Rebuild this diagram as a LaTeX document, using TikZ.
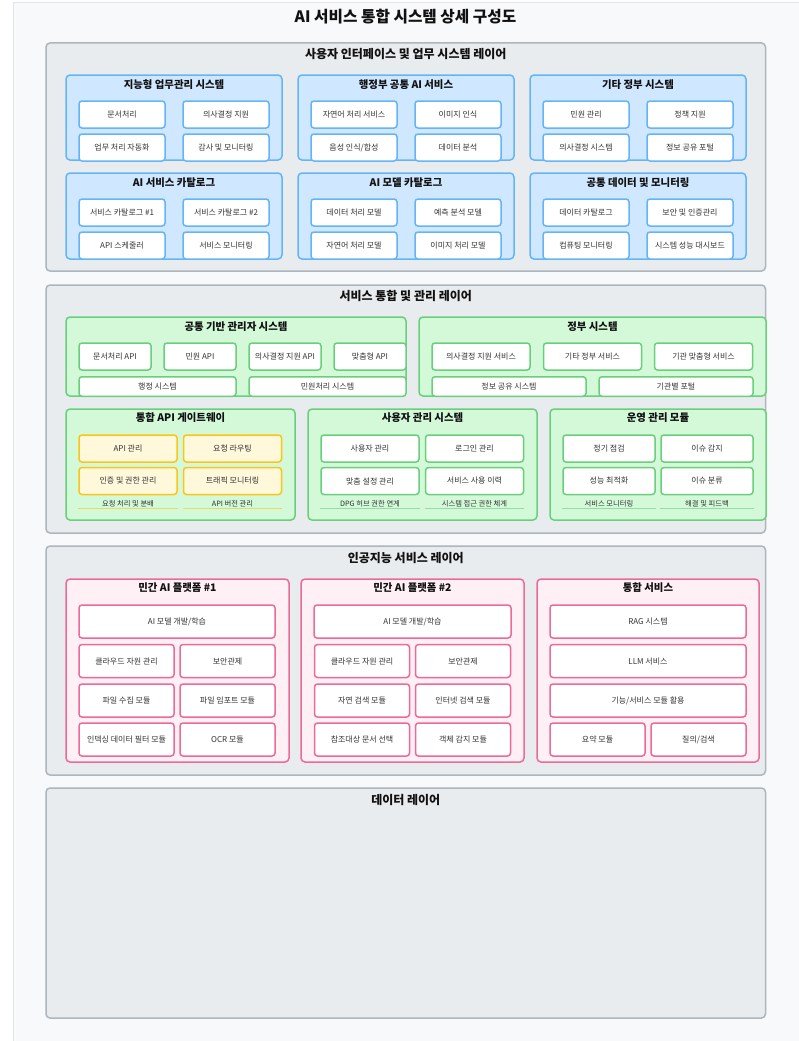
\documentclass[tikz,border=0pt]{standalone}
\usepackage{fontspec}
\setmainfont{Noto Sans CJK KR}
\definecolor{pagebg}{HTML}{F8F9FA}
\definecolor{pageline}{HTML}{E3E6E9}
\definecolor{layerbg}{HTML}{E9ECEF}
\definecolor{layerline}{HTML}{ADB5BD}
\definecolor{bluebg}{HTML}{CFE8FF}
\definecolor{blueline}{HTML}{64B5F6}
\definecolor{greenbg}{HTML}{D3F9D8}
\definecolor{greenline}{HTML}{69CF7B}
\definecolor{yellowbg}{HTML}{FFF8DB}
\definecolor{yellowline}{HTML}{FCC419}
\definecolor{pinkbg}{HTML}{FFF0F5}
\definecolor{pinkline}{HTML}{EC6A98}
\definecolor{itemtext}{HTML}{333333}
\definecolor{titletext}{HTML}{111111}
\begin{document}
\begin{tikzpicture}[x=1pt, y=-1pt, line width=1.5pt,
	sz/.style 2 args={minimum width=#1pt, minimum height=#2pt},
	layer/.style={draw=layerline, fill=layerbg, rounded corners=4pt, inner sep=0pt},
	bluepanel/.style={draw=blueline, fill=bluebg, rounded corners=4pt, inner sep=0pt},
	greenpanel/.style={draw=greenline, fill=greenbg, rounded corners=4pt, inner sep=0pt},
	pinkpanel/.style={draw=pinkline, fill=pinkbg, rounded corners=4pt, inner sep=0pt},
	item/.style={fill=white, rounded corners=3pt, inner sep=0pt, text=itemtext, font=\fontsize{8}{9}\selectfont},
	bitem/.style={item, draw=blueline},
	gitem/.style={item, draw=greenline},
	yitem/.style={item, draw=yellowline, fill=yellowbg},
	pitem/.style={item, draw=pinkline},
	note/.style={inner sep=0pt, minimum height=8pt, text=itemtext, font=\fontsize{7.3}{8}\selectfont},
	underline/.style={line width=0.8pt, opacity=0.6},
	layertitle/.style={inner sep=0pt, text=titletext, font=\bfseries\fontsize{12}{14}\selectfont},
	paneltitle/.style={inner sep=0pt, text=titletext, font=\bfseries\fontsize{10.4}{12}\selectfont}]
	\useasboundingbox (0,0) rectangle (799,1041);
	\fill[pagebg] (13,3) rectangle (799,1041);
	\draw[pageline, line width=1pt] (13,1041) -- (13,3) -- (799,3);
	\node[inner sep=0pt, text=titletext, font=\bfseries\fontsize{15.7}{18}\selectfont] (title) at (405.5,17) {AI 서비스 통합 시스템 상세 구성도};

	% user interface layer
	\node[layer, sz={719.5}{228}] (ui) at (405.75,157) {};
	\node[layertitle] (uit) at (405.75,54) {사용자 인터페이스 및 업무 시스템 레이어};
	\node[bluepanel, sz={216}{85}] (work) at (174,117.5) {};
	\node[paneltitle] (workt) at (174,85) {지능형 업무관리 시스템};
	\node[bitem, sz={86}{27}] (work1) at (122,114.5) {문서처리};
	\node[bitem, sz={86}{27}] (work2) at (226,114.5) {의사결정 지원};
	\node[bitem, sz={86}{27}] (work3) at (122,147.5) {업무 처리 자동화};
	\node[bitem, sz={86}{27}] (work4) at (226,147.5) {감사 및 모니터링};
	\node[bluepanel, sz={216}{85}] (gov) at (406,117.5) {};
	\node[paneltitle] (govt) at (406,85) {행정부 공통 AI 서비스};
	\node[bitem, sz={86}{27}] (gov1) at (354,114.5) {자연어 처리 서비스};
	\node[bitem, sz={86}{27}] (gov2) at (458,114.5) {이미지 인식};
	\node[bitem, sz={86}{27}] (gov3) at (354,147.5) {음성 인식/합성};
	\node[bitem, sz={86}{27}] (gov4) at (458,147.5) {데이터 분석};
	\node[bluepanel, sz={216}{85}] (etc) at (638,117.5) {};
	\node[paneltitle] (etct) at (638,85) {기타 정부 시스템};
	\node[bitem, sz={86}{27}] (etc1) at (586,114.5) {민원 관리};
	\node[bitem, sz={86}{27}] (etc2) at (690,114.5) {정책 지원};
	\node[bitem, sz={86}{27}] (etc3) at (586,147.5) {의사결정 시스템};
	\node[bitem, sz={86}{27}] (etc4) at (690,147.5) {정보 공유 포털};
	\node[bluepanel, sz={216}{86}] (svc) at (174,216) {};
	\node[paneltitle] (svct) at (174,183) {AI 서비스 카탈로그};
	\node[bitem, sz={86}{27}] (svc1) at (122,212.5) {서비스 카탈로그 \#1};
	\node[bitem, sz={86}{27}] (svc2) at (226,212.5) {서비스 카탈로그 \#2};
	\node[bitem, sz={86}{27}] (svc3) at (122,245.5) {API 스케줄러};
	\node[bitem, sz={86}{27}] (svc4) at (226,245.5) {서비스 모니터링};
	\node[bluepanel, sz={216}{86}] (mdl) at (406,216) {};
	\node[paneltitle] (mdlt) at (406,183) {AI 모델 카탈로그};
	\node[bitem, sz={86}{27}] (mdl1) at (354,212.5) {데이터 처리 모델};
	\node[bitem, sz={86}{27}] (mdl2) at (458,212.5) {예측 분석 모델};
	\node[bitem, sz={86}{27}] (mdl3) at (354,245.5) {자연어 처리 모델};
	\node[bitem, sz={86}{27}] (mdl4) at (458,245.5) {이미지 처리 모델};
	\node[bluepanel, sz={216}{86}] (mon) at (638,216) {};
	\node[paneltitle] (mont) at (638,183) {공통 데이터 및 모니터링};
	\node[bitem, sz={86}{27}] (mon1) at (586,212.5) {데이터 카탈로그};
	\node[bitem, sz={86}{27}] (mon2) at (690,212.5) {보안 및 인증관리};
	\node[bitem, sz={86}{27}] (mon3) at (586,245.5) {컴퓨팅 모니터링};
	\node[bitem, sz={86}{27}] (mon4) at (690,245.5) {시스템 성능 대시보드};

	% integration layer
	\node[layer, sz={719.5}{248}] (intg) at (405.75,409) {};
	\node[layertitle] (intgt) at (405.75,296) {서비스 통합 및 관리 레이어};
	\node[greenpanel, sz={340}{79}] (base) at (236,356.5) {};
	\node[paneltitle] (baset) at (236,327) {공통 기반 관리자 시스템};
	\node[gitem, sz={72}{27}] (base1) at (115,356.5) {문서처리 API};
	\node[gitem, sz={72}{27}] (base2) at (200,356.5) {민원 API};
	\node[gitem, sz={72}{27}] (base3) at (285,356.5) {의사결정 지원 API};
	\node[gitem, sz={72}{27}] (base4) at (370,356.5) {맞춤형 API};
	\node[gitem, sz={157}{19.5}] (base5) at (157.5,386.5) {행정 시스템};
	\node[gitem, sz={157}{19.5}] (base6) at (327.5,386.5) {민원처리 시스템};
	\node[greenpanel, sz={347}{79}] (govsys) at (592.5,356.5) {};
	\node[paneltitle] (govsyst) at (592.5,327) {정부 시스템};
	\node[gitem, sz={98}{27}] (govsys1) at (481,356.5) {의사결정 지원 서비스};
	\node[gitem, sz={98}{27}] (govsys2) at (592.5,356.5) {기타 정부 서비스};
	\node[gitem, sz={98}{27}] (govsys3) at (703.5,356.5) {기관 맞춤형 서비스};
	\node[gitem, sz={154}{19.5}] (govsys4) at (509,386.5) {정보 공유 시스템};
	\node[gitem, sz={154}{19.5}] (govsys5) at (676,386.5) {기관별 포털};
	\node[greenpanel, sz={229}{111}] (gw) at (180.5,464.5) {};
	\node[paneltitle] (gwt) at (180.5,418) {통합 API 게이트웨이};
	\node[yitem, sz={98}{27}] (gw1) at (128,448.5) {API 관리};
	\node[yitem, sz={98}{27}] (gw2) at (232.5,448.5) {요청 라우팅};
	\node[yitem, sz={98}{27}] (gw3) at (128,481) {인증 및 권한 관리};
	\node[yitem, sz={98}{27}] (gw4) at (232.5,481) {트래픽 모니터링};
	\node[note, minimum width=98pt] (gw5) at (128,503.5) {요청 처리 및 분배};
	\node[note, minimum width=98pt] (gw6) at (232.5,503.5) {API 버전 관리};
	\draw[underline, yellowline] (gw5.south west) -- (gw5.south east) (gw6.south west) -- (gw6.south east);
	\node[greenpanel, sz={229}{111}] (usr) at (422.5,464.5) {};
	\node[paneltitle] (usrt) at (422.5,418) {사용자 관리 시스템};
	\node[gitem, sz={98}{27}] (usr1) at (370,448.5) {사용자 관리};
	\node[gitem, sz={98}{27}] (usr2) at (474.5,448.5) {로그인 관리};
	\node[gitem, sz={98}{27}] (usr3) at (370,481) {맞춤 설정 관리};
	\node[gitem, sz={98}{27}] (usr4) at (474.5,481) {서비스 사용 이력};
	\node[note, minimum width=98pt] (usr5) at (370,503.5) {DPG 허브 권한 연계};
	\node[note, minimum width=98pt] (usr6) at (474.5,503.5) {시스템 접근 권한 체계};
	\draw[underline, greenline] (usr5.south west) -- (usr5.south east) (usr6.south west) -- (usr6.south east);
	\node[greenpanel, sz={216}{111}] (ops) at (658,464.5) {};
	\node[paneltitle] (opst) at (658,418) {운영 관리 모듈};
	\node[gitem, sz={92}{27}] (ops1) at (609,448.5) {정기 점검};
	\node[gitem, sz={92}{27}] (ops2) at (707,448.5) {이슈 감지};
	\node[gitem, sz={92}{27}] (ops3) at (609,481) {성능 최적화};
	\node[gitem, sz={92}{27}] (ops4) at (707,481) {이슈 분류};
	\node[note, minimum width=92pt] (ops5) at (609,503.5) {서비스 모니터링};
	\node[note, minimum width=92pt] (ops6) at (707,503.5) {해결 및 피드백};
	\draw[underline, greenline] (ops5.south west) -- (ops5.south east) (ops6.south west) -- (ops6.south east);

	% AI layer
	\node[layer, sz={719.5}{229}] (ai) at (405.75,660.5) {};
	\node[layertitle] (ait) at (405.75,558) {인공지능 서비스 레이어};
	\node[pinkpanel, sz={223}{183}] (pa) at (177.5,670.5) {};
	\node[paneltitle] (pat) at (177.5,588) {민간 AI 플랫폼 \#1};
	\node[pitem, sz={196}{33}] (pa1) at (177,621.5) {AI 모델 개발/학습};
	\node[pitem, sz={95}{33}] (pa2) at (126.5,661) {클라우드 자원 관리};
	\node[pitem, sz={95}{33}] (pa3) at (227.5,661) {보안관제};
	\node[pitem, sz={95}{33}] (pa4) at (126.5,700.5) {파일 수집 모듈};
	\node[pitem, sz={95}{33}] (pa5) at (227.5,700.5) {파일 임포트 모듈};
	\node[pitem, sz={95}{33}] (pa6) at (126.5,739.5) {인덱싱 데이터 필터 모듈};
	\node[pitem, sz={95}{33}] (pa7) at (227.5,739.5) {OCR 모듈};
	\node[pinkpanel, sz={223}{183}] (pb) at (412.5,670.5) {};
	\node[paneltitle] (pbt) at (412.5,588) {민간 AI 플랫폼 \#2};
	\node[pitem, sz={197}{33}] (pb1) at (412.5,621.5) {AI 모델 개발/학습};
	\node[pitem, sz={95}{33}] (pb2) at (362,661) {클라우드 자원 관리};
	\node[pitem, sz={95}{33}] (pb3) at (463,661) {보안관제};
	\node[pitem, sz={95}{33}] (pb4) at (362,700.5) {자연 검색 모듈};
	\node[pitem, sz={95}{33}] (pb5) at (463,700.5) {인터넷 검색 모듈};
	\node[pitem, sz={95}{33}] (pb6) at (362,739.5) {참조대상 문서 선택};
	\node[pitem, sz={95}{33}] (pb7) at (463,739.5) {객체 감지 모듈};
	\node[pinkpanel, sz={222}{183}] (pc) at (648,670.5) {};
	\node[paneltitle] (pct) at (648,588) {통합 서비스};
	\node[pitem, sz={196}{33}] (pc1) at (648,621.5) {RAG 시스템};
	\node[pitem, sz={196}{33}] (pc2) at (648,661) {LLM 서비스};
	\node[pitem, sz={196}{33}] (pc3) at (648,700.5) {기능/서비스 모듈 활용};
	\node[pitem, sz={95}{33}] (pc4) at (597.5,739.5) {요약 모듈};
	\node[pitem, sz={95}{33}] (pc5) at (698.5,739.5) {질의/검색};

	% data layer
	\node[layer, sz={719.5}{230}] (data) at (405.75,903) {};
	\node[layertitle] (datat) at (405.75,800) {데이터 레이어};
\end{tikzpicture}
\end{document}
